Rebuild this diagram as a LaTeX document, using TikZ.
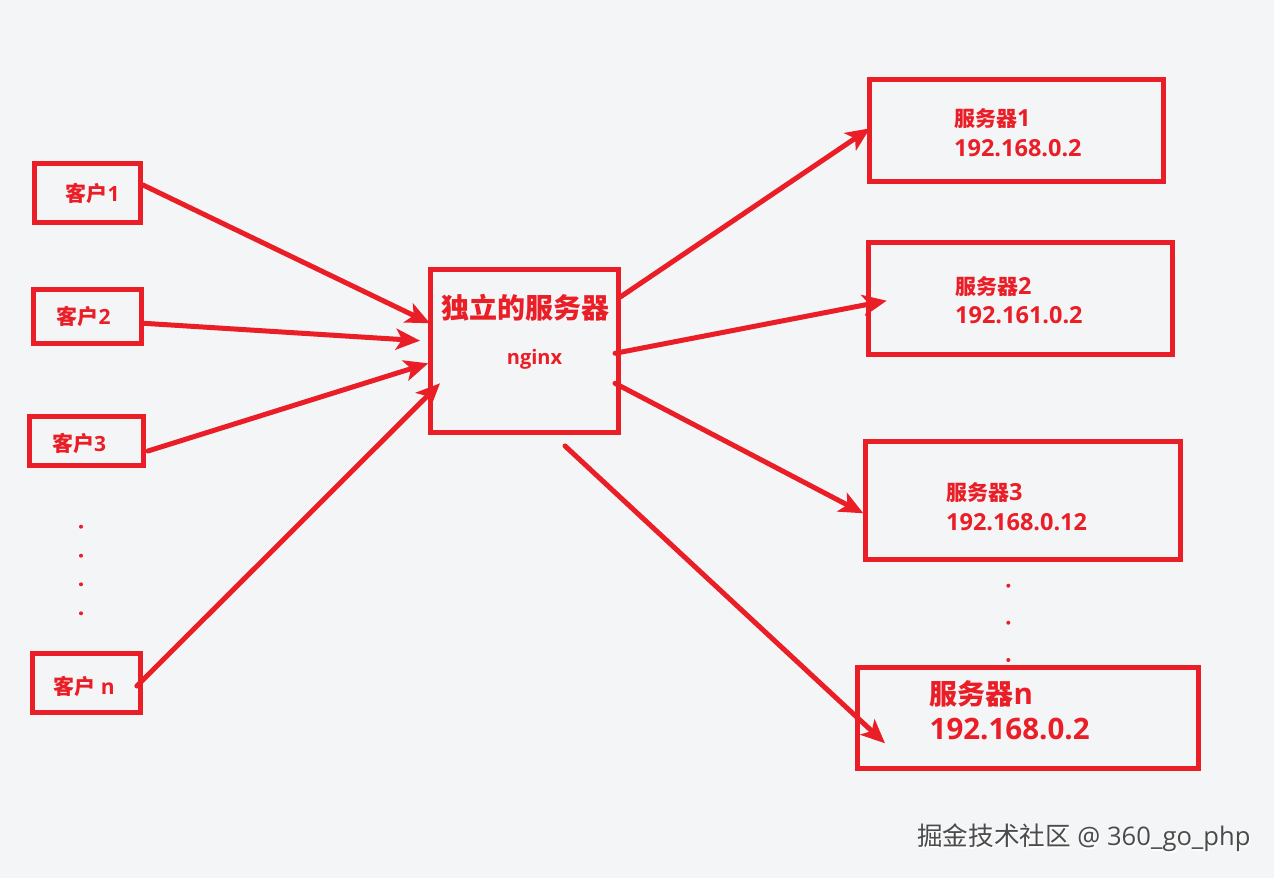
\documentclass[tikz,border=0pt]{standalone}
\usepackage{fontspec}
\setmainfont{Open Sans}
\newfontfamily\cjk{Noto Sans CJK SC}
\usetikzlibrary{arrows.meta}
\definecolor{rd}{RGB}{234,30,38}
\definecolor{bg}{RGB}{244,245,247}
\definecolor{wm}{RGB}{75,75,75}
\newcommand{\cjs}[1]{{\cjk\bfseries\fontsize{21}{26}\selectfont #1}}
\newcommand{\cjb}[1]{{\cjk\bfseries\fontsize{28}{32}\selectfont #1}}
\begin{document}
\begin{tikzpicture}[x=1pt,y=-1pt,
  box/.style={draw=rd, line width=5pt, rectangle, inner sep=0pt},
  lbl/.style={text=rd, inner sep=0pt, anchor=west, font=\bfseries\fontsize{21}{26}\selectfont},
  srv/.style={text=rd, inner sep=0pt, anchor=west, font=\bfseries\fontsize{23.5}{26}\selectfont},
  big/.style={text=rd, inner sep=0pt, anchor=west, font=\bfseries\fontsize{29.5}{32}\selectfont},
  arr/.style={draw=rd, line width=5pt, line cap=round, -{Stealth[length=24pt,width=21pt,inset=6pt]}},
  dot/.style={fill=rd}
]
\fill[bg] (0,0) rectangle (1274,878);

% clients
\node[box, minimum width=106pt, minimum height=59pt] (c1) at (87.5,193) {};
\node[box, minimum width=108.5pt, minimum height=54pt] (c2) at (87.25,316.7) {};
\node[box, minimum width=114pt, minimum height=49pt] (c3) at (86.5,441) {};
\node[box, minimum width=108.3pt, minimum height=59pt] (cn) at (86.2,682.5) {};
\node[lbl, anchor=center] (tc1) at (92.5,193) {\cjs{客户}1};
\node[lbl, anchor=center] (tc2) at (83.5,316.7) {\cjs{客户}2};
\node[lbl, anchor=center] (tc3) at (79,443) {\cjs{客户}3};
\node[lbl, anchor=center] (tcn) at (84,686) {\cjs{客户} n};
\foreach \y in {526.7,555.7,584.3,613.3} \fill[dot] (81,\y) circle (2pt);

% hub
\node[box, minimum width=188pt, minimum height=163.3pt] (hub) at (524.8,351.3) {};
\node[big, anchor=center] (th) at (525.5,308) {\cjb{独立的服务器}};
\node[lbl, anchor=center, font=\bfseries\fontsize{20}{24}\selectfont] (tng) at (534.5,359) {nginx};

% servers
\node[box, minimum width=293.6pt, minimum height=102.3pt] (s1) at (1016.5,130.2) {};
\node[box, minimum width=304pt, minimum height=111.7pt] (s2) at (1020,298.8) {};
\node[box, minimum width=315.3pt, minimum height=117.9pt] (s3) at (1023.2,500.2) {};
\node[box, minimum width=341pt, minimum height=100.8pt] (sn) at (1028.3,717.9) {};

\node[srv] (ts1a) at (954,118.5) {\cjs{服务器}1};
\node[srv] (ts1b) at (954,148) {192.168.0.2};
\node[srv] (ts2a) at (955,286.7) {\cjs{服务器}2};
\node[srv] (ts2b) at (955,315.3) {192.161.0.2};
\node[srv] (ts3a) at (946,493) {\cjs{服务器}3};
\node[srv] (ts3b) at (946,521.7) {192.168.0.12};
\node[big] (tsna) at (929.5,694.2) {\cjb{服务器}n};
\node[big] (tsnb) at (929.5,729.2) {192.168.0.2};
\foreach \y in {585.7,622.7,660} \fill[dot] (1008.3,\y) circle (2pt);

% arrows clients -> hub
\draw[arr] ([yshift=8pt]c1.east) -- ([xshift=1.7pt,yshift=28pt]hub.west);
\draw[arr] ([yshift=-6.6pt]c2.east) -- ([xshift=-8.3pt,yshift=10.6pt]hub.west);
\draw[arr] ([xshift=2pt,yshift=-10pt]c3.east) -- ([xshift=0pt,yshift=-12pt]hub.west);
\draw[arr] ([xshift=-6pt,yshift=-3.5pt]cn.east) -- ([xshift=11.7pt,yshift=-32pt]hub.west);

% arrows hub -> servers
\draw[arr] ([xshift=-0.6pt,yshift=54.6pt]hub.east) -- ([xshift=2.8pt,yshift=1.9pt]s1.west);
\draw[arr] ([xshift=-6.3pt,yshift=-2pt]hub.east) -- ([xshift=21.2pt,yshift=-1.9pt]s2.west);
\draw[arr] ([xshift=-6.3pt,yshift=-32pt]hub.east) -- ([xshift=0.3pt,yshift=-13.1pt]s3.west);
\draw[arr] ([xshift=40.2pt,yshift=-10.5pt]hub.south) -- ([xshift=29.7pt,yshift=-25.4pt]sn.west);

% watermark
\node[anchor=west, inner sep=0pt, text=white, font=\fontsize{25.6}{28}\selectfont] (wms) at (918.2,839.2) {{\cjk 掘金技术社区} @ 360\_go\_php};
\node[anchor=west, inner sep=0pt, text=wm, font=\fontsize{25.6}{28}\selectfont] (wmk) at (917,838) {{\cjk 掘金技术社区} @ 360\_go\_php};
\end{tikzpicture}
\end{document}
